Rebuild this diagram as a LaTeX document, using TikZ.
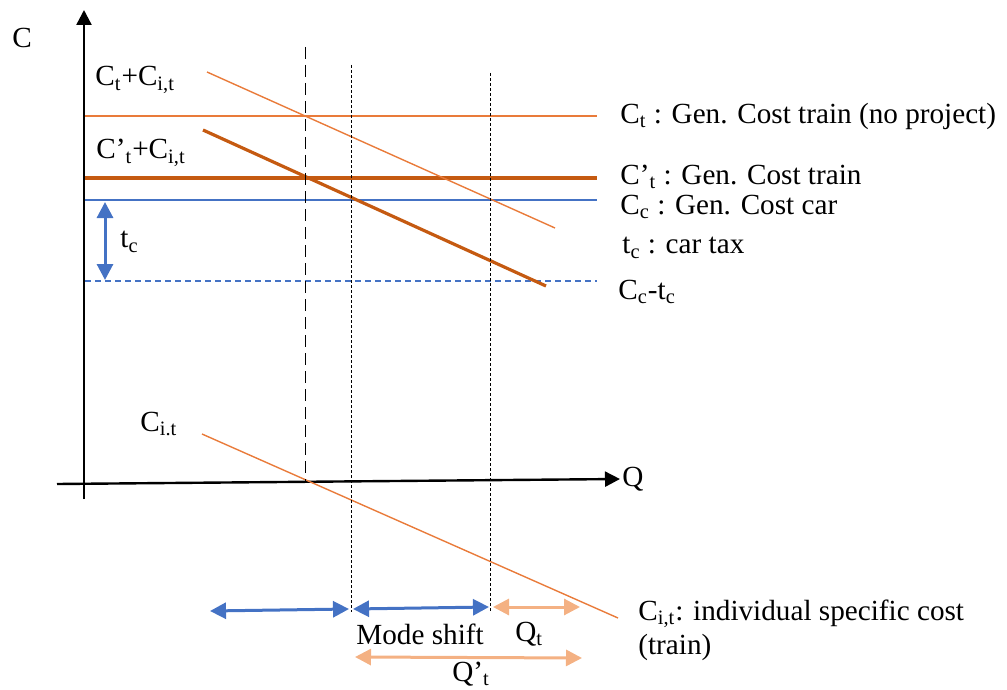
\documentclass[tikz,border=0pt]{standalone}
\usepackage{fontspec}
\setmainfont{Liberation Serif}
\usetikzlibrary{arrows.meta,positioning}
\definecolor{train}{HTML}{E97B3A}
\definecolor{trainnew}{HTML}{C55A11}
\definecolor{car}{HTML}{4472C4}
\definecolor{flow}{HTML}{F4B183}
\newcommand{\sub}[1]{\textsubscript{#1}}
\tikzset{
  lbl/.style={font=\fontsize{14.6}{17}\selectfont, inner sep=0pt, anchor=west},
  axis/.style={-{Triangle[length=7.5pt,width=7.5pt]}, line width=1.2pt},
  cost/.style={train, line width=0.7pt},
  costnew/.style={trainnew, line width=1.6pt},
  guide/.style={black, line width=0.5pt, dash pattern=on 6pt off 3pt},
  dotguide/.style={black, line width=0.45pt, dash pattern=on 1.5pt off 1pt},
  span/.style={{Triangle[length=8pt,width=8pt]}-{Triangle[length=8pt,width=8pt]},
               line width=1.5pt}
}

\begin{document}
\begin{tikzpicture}[x=0.5pt, y=-0.5pt]
  \useasboundingbox (0,0) rectangle (1007,690);
  % axes
  \draw[axis] (84,499) -- (84,10);
  \draw[axis] (57,484) -- (620,479);
  \node[lbl] (cax) at (12,38) {C};
  \node[lbl] (qax) at (622,479) {Q};
  % horizontal cost levels
  \draw[cost] (85,116) -- (597,116);
  \draw[costnew] (85,178) -- (597,178);
  \draw[car, line width=0.7pt] (85,200) -- (597,200);
  \draw[car, line width=0.6pt, dash pattern=on 3pt off 2pt] (85,281) -- (597,281);
  \draw[span, car] (105,202) -- (105,280);
  \node[lbl] (tc) at (120,242) {t\sub{c}};
  % sloped cost curves
  \draw[cost] (207,72) -- (555,228);
  \draw[costnew] (203,130) -- (546,286);
  \draw[cost] (202,434) -- (618,618);
  % guides
  \draw[guide] (305,47) -- (305,482);
  \draw[dotguide] (351,65) -- (351,612);
  \draw[dotguide] (490,73) -- (490,612);
  % curve labels
  \node[lbl] (ctci) at (95,80) {C\sub{t}+C\sub{i,t}};
  \node[lbl] (cpci) at (96,153) {C’\sub{t}+C\sub{i,t}};
  \node[lbl] (ci) at (140,424) {C\sub{i.t}};
  \node[lbl] (lct) at (620,116) {C\sub{t} : Gen. Cost train (no project)};
  \node[lbl] (lcpt) at (620,177) {C’\sub{t} : Gen. Cost train};
  \node[lbl] (lcc) at (620,207) {C\sub{c} : Gen. Cost car};
  \node[lbl] (ltc) at (622,248) {t\sub{c} : car tax};
  \node[lbl] (lcctc) at (618,292) {C\sub{c}-t\sub{c}};
  \node[lbl, align=left] (lci) at (638,630) {C\sub{i,t}: individual specific cost\\(train)};
  % quantities
  \draw[span, car] (210,611) -- (349,609);
  \draw[span, car] (353,609) -- (489,607);
  \draw[span, flow] (493,607) -- (580,607);
  \draw[span, flow] (355,657) -- (582,658);
  \node[lbl] (shift) at (356,634) {Mode shift};
  \node[lbl] (qt) at (515,634) {Q\sub{t}};
  \node[lbl] (qpt) at (452,674) {Q’\sub{t}};
\end{tikzpicture}
\end{document}
